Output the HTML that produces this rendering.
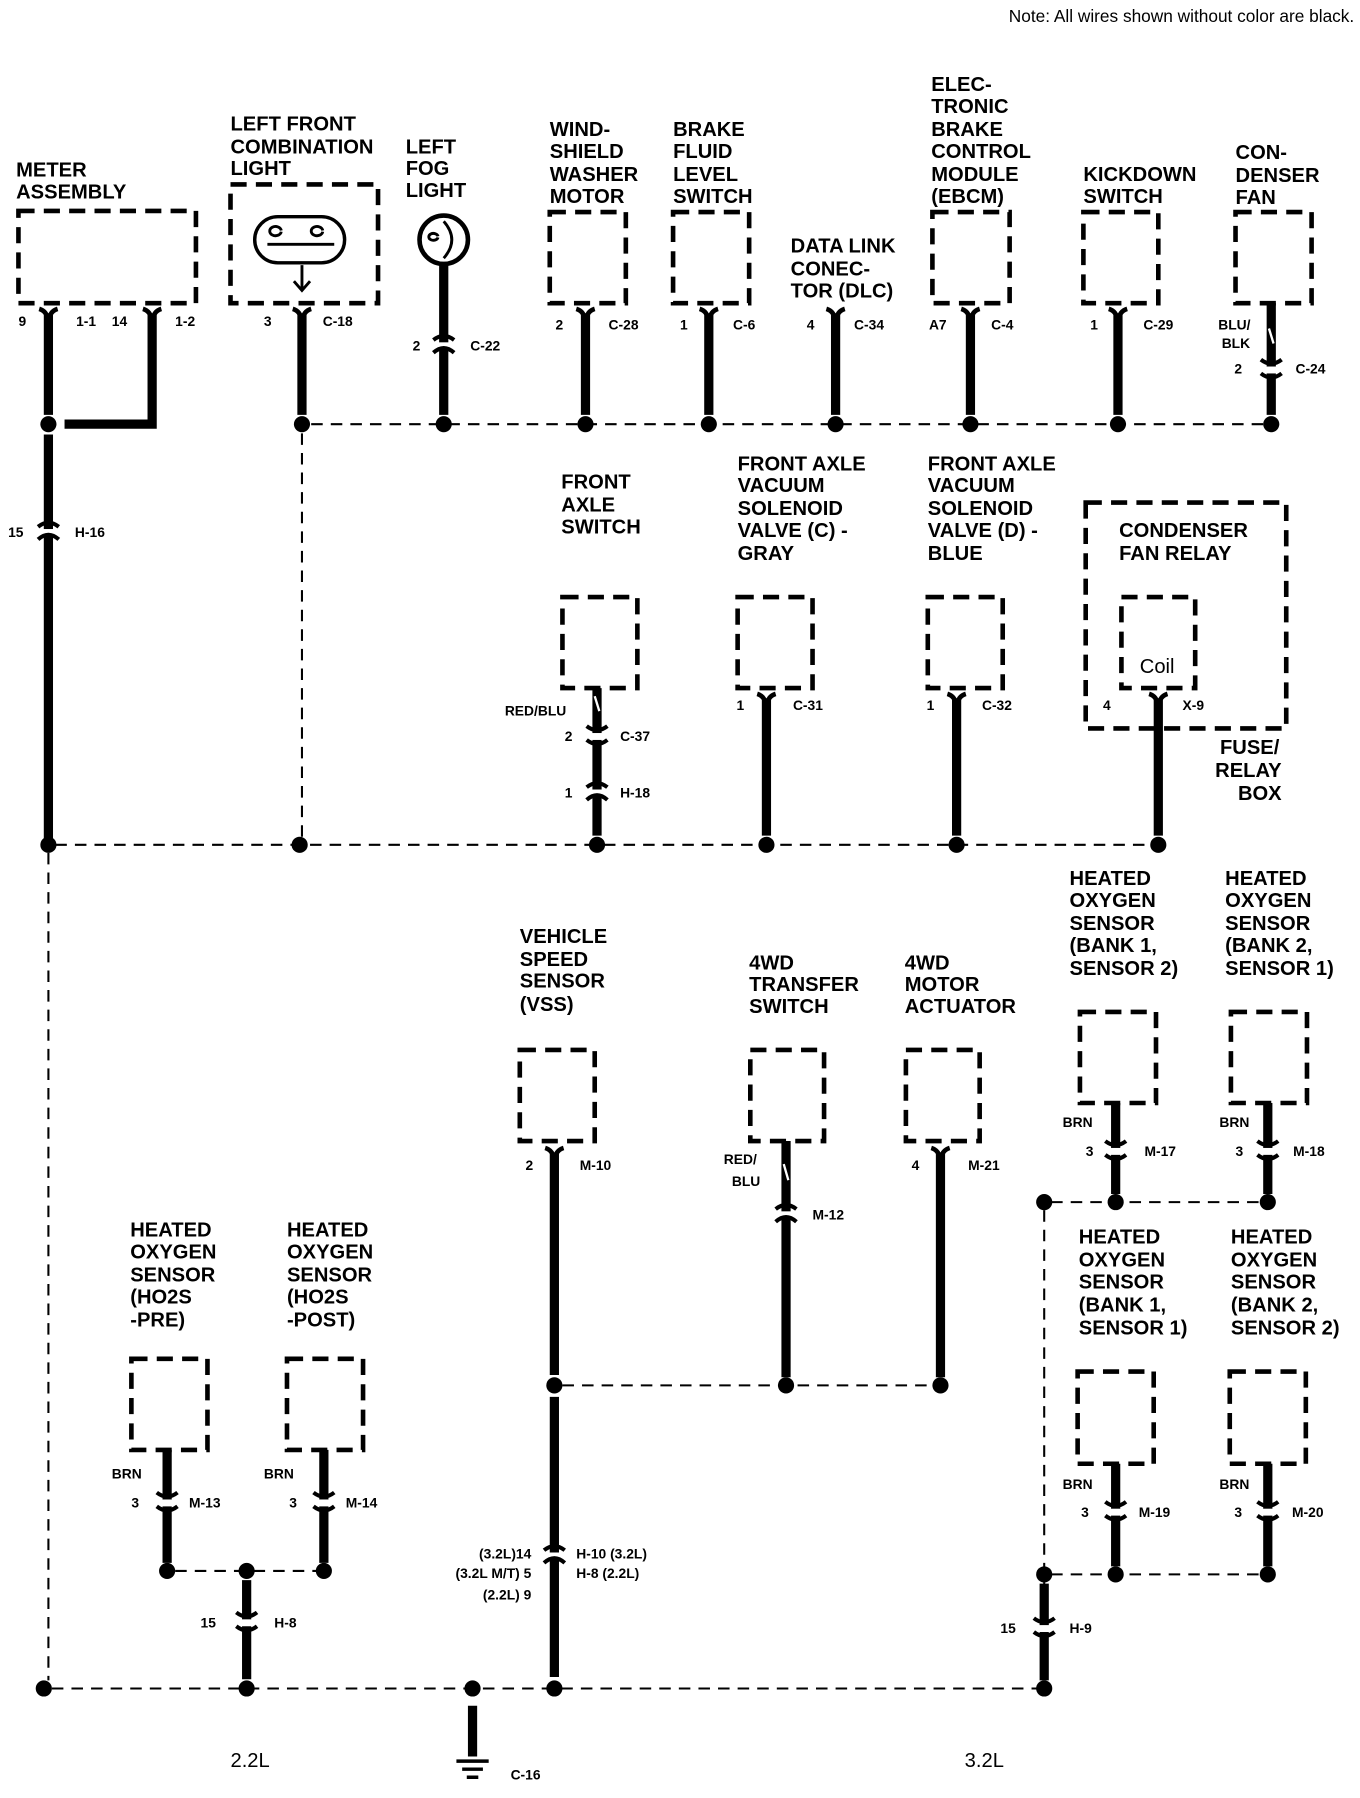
<!DOCTYPE html>
<html><head><meta charset="utf-8"><style>
html,body{margin:0;padding:0;background:#fff}
svg{display:block}
text{font-family:"Liberation Sans",Arial,sans-serif;font-weight:bold;fill:#000}
.l{font-size:17.5px}
.s{font-size:12px}
.n{font-weight:normal}
.bx{fill:none;stroke:#000;stroke-width:4;stroke-dasharray:14 8}
.w{stroke:#000;stroke-width:8;fill:none}
.d{stroke:#000;stroke-width:1.8;stroke-dasharray:10 7;fill:none}
</style></head><body>
<svg width="1360" height="1798" viewBox="0 0 1180 1560" xmlns="http://www.w3.org/2000/svg">
<defs>
<g id="fk"><path d="M-8,-8 Q-1,-6 0,3 Q1,-6 8,-8" stroke="#000" stroke-width="4" fill="none"/></g>
<g id="cn"><rect x="-10" y="-3" width="20" height="5" fill="#fff"/><path d="M-9,-5 Q0,-12 9,-5 M-9,6 Q0,-2 9,6" stroke="#000" stroke-width="3.5" fill="none"/></g>
<g id="cd"><rect x="-10" y="-4" width="20" height="6" fill="#fff"/><path d="M-9,-10 Q0,-3 9,-10 M-9,2 Q0,9 9,2" stroke="#000" stroke-width="3.5" fill="none"/></g>
<circle id="dt" r="7" fill="#000"/>
</defs>

<text x="1175" y="19" class="l n" text-anchor="end" style="font-size:15px">Note: All wires shown without color are black.</text>

<!-- Meter assembly -->
<text class="l" x="14" y="153">METER</text><text class="l" x="14" y="172">ASSEMBLY</text>
<rect class="bx" x="16" y="183" width="154" height="80"/>
<text class="s" x="16" y="283">9</text><text class="s" x="66" y="283">1-1</text><text class="s" x="97" y="283">14</text><text class="s" x="152" y="283">1-2</text>
<path class="w" d="M42,272 V360 M42,377 V735 M132,272 V368 H56"/>
<use href="#fk" x="42" y="276"/><use href="#fk" x="132" y="276"/>
<use href="#dt" x="42" y="368"/>
<use href="#cn" x="42" y="462"/><text class="s" x="7" y="466">15</text><text class="s" x="65" y="466">H-16</text>

<!-- Left front combination light -->
<text class="l" x="200" y="113">LEFT FRONT</text><text class="l" x="200" y="133">COMBINATION</text><text class="l" x="200" y="152">LIGHT</text>
<rect class="bx" x="200" y="160" width="128" height="103"/>
<rect x="221" y="188" width="78" height="40" rx="20" fill="none" stroke="#000" stroke-width="3"/>
<path d="M232,212 Q262,212 290,212 M244,200 A5,4 0 1,0 244,201 M280,200 A5,4 0 1,0 280,201 M262,230 V252 M255,244 L262,252 L269,244" stroke="#000" stroke-width="2.5" fill="none"/>
<text class="s" x="229" y="283">3</text><text class="s" x="280" y="283">C-18</text>
<path class="w" d="M262,272 V360"/><use href="#fk" x="262" y="276"/>
<!-- fog light -->
<text class="l" x="352" y="133">LEFT</text><text class="l" x="352" y="152">FOG</text><text class="l" x="352" y="171">LIGHT</text>
<circle cx="385" cy="208" r="21" fill="none" stroke="#000" stroke-width="4"/>
<path d="M385,192 Q399,208 385,224 M380,205 A4,3 0 1,0 380,206" stroke="#000" stroke-width="2.5" fill="none"/>
<path class="w" d="M385,230 V360"/><use href="#cn" x="385" y="300"/>
<text class="s" x="358" y="304">2</text><text class="s" x="408" y="304">C-22</text>

<!-- top bus -->
<path class="d" d="M270,368 H1100"/>
<path class="d" d="M262,376 V733"/>
<use href="#dt" x="262" y="368"/><use href="#dt" x="385" y="368"/><use href="#dt" x="508" y="368"/><use href="#dt" x="615" y="368"/><use href="#dt" x="725" y="368"/><use href="#dt" x="842" y="368"/><use href="#dt" x="970" y="368"/><use href="#dt" x="1103" y="368"/>

<text class="l" x="477" y="118">WIND-</text><text class="l" x="477" y="137">SHIELD</text><text class="l" x="477" y="157">WASHER</text><text class="l" x="477" y="176">MOTOR</text>
<rect class="bx" x="477" y="184" width="66" height="79"/>
<text class="s" x="482" y="286">2</text><text class="s" x="528" y="286">C-28</text>
<path class="w" d="M508,272 V360"/><use href="#fk" x="508" y="276"/>

<text class="l" x="584" y="118">BRAKE</text><text class="l" x="584" y="137">FLUID</text><text class="l" x="584" y="157">LEVEL</text><text class="l" x="584" y="176">SWITCH</text>
<rect class="bx" x="584" y="184" width="66" height="79"/>
<text class="s" x="590" y="286">1</text><text class="s" x="636" y="286">C-6</text>
<path class="w" d="M615,272 V360"/><use href="#fk" x="615" y="276"/>

<text class="l" x="686" y="219">DATA LINK</text><text class="l" x="686" y="239">CONEC-</text><text class="l" x="686" y="258">TOR (DLC)</text>
<text class="s" x="700" y="286">4</text><text class="s" x="741" y="286">C-34</text>
<path class="w" d="M725,272 V360"/><use href="#fk" x="725" y="276"/>

<text class="l" x="808" y="79">ELEC-</text><text class="l" x="808" y="98">TRONIC</text><text class="l" x="808" y="118">BRAKE</text><text class="l" x="808" y="137">CONTROL</text><text class="l" x="808" y="157">MODULE</text><text class="l" x="808" y="176">(EBCM)</text>
<rect class="bx" x="809" y="184" width="67" height="79"/>
<text class="s" x="806" y="286">A7</text><text class="s" x="860" y="286">C-4</text>
<path class="w" d="M842,272 V360"/><use href="#fk" x="842" y="276"/>

<text class="l" x="940" y="157">KICKDOWN</text><text class="l" x="940" y="176">SWITCH</text>
<rect class="bx" x="940" y="184" width="65" height="79"/>
<text class="s" x="946" y="286">1</text><text class="s" x="992" y="286">C-29</text>
<path class="w" d="M970,272 V360"/><use href="#fk" x="970" y="276"/>

<text class="l" x="1072" y="138">CON-</text><text class="l" x="1072" y="158">DENSER</text><text class="l" x="1072" y="177">FAN</text>
<rect class="bx" x="1072" y="184" width="66" height="79"/>
<path class="w" d="M1103,263 V360"/><path d="M1101,285 L1105,298" stroke="#fff" stroke-width="2"/>
<use href="#cd" x="1103" y="322"/>
<text class="s" x="1057" y="286">BLU/</text><text class="s" x="1060" y="302">BLK</text>
<text class="s" x="1071" y="324">2</text><text class="s" x="1124" y="324">C-24</text>

<!-- middle row -->
<text class="l" x="487" y="424">FRONT</text><text class="l" x="487" y="444">AXLE</text><text class="l" x="487" y="463">SWITCH</text>
<rect class="bx" x="488" y="518" width="65" height="79"/>
<path class="w" d="M518,597 V725"/><path d="M516,604 L520,617" stroke="#fff" stroke-width="2"/>
<text class="s" x="438" y="621">RED/BLU</text>
<use href="#cd" x="518" y="640"/><text class="s" x="490" y="643">2</text><text class="s" x="538" y="643">C-37</text>
<use href="#cn" x="518" y="688"/><text class="s" x="490" y="692">1</text><text class="s" x="538" y="692">H-18</text>

<text class="l" x="640" y="408">FRONT AXLE</text><text class="l" x="640" y="427">VACUUM</text><text class="l" x="640" y="447">SOLENOID</text><text class="l" x="640" y="466">VALVE (C) -</text><text class="l" x="640" y="486">GRAY</text>
<rect class="bx" x="640" y="518" width="65" height="79"/>
<text class="s" x="639" y="616">1</text><text class="s" x="688" y="616">C-31</text>
<path class="w" d="M665,606 V725"/><use href="#fk" x="665" y="610"/>

<text class="l" x="805" y="408">FRONT AXLE</text><text class="l" x="805" y="427">VACUUM</text><text class="l" x="805" y="447">SOLENOID</text><text class="l" x="805" y="466">VALVE (D) -</text><text class="l" x="805" y="486">BLUE</text>
<rect class="bx" x="805" y="518" width="65" height="79"/>
<text class="s" x="804" y="616">1</text><text class="s" x="852" y="616">C-32</text>
<path class="w" d="M830,606 V725"/><use href="#fk" x="830" y="610"/>

<rect class="bx" x="942" y="436" width="174" height="196"/>
<text class="l" x="971" y="466">CONDENSER</text><text class="l" x="971" y="486">FAN RELAY</text>
<rect class="bx" x="973" y="518" width="64" height="79"/>
<text class="l n" x="1004" y="584" text-anchor="middle">Coil</text>
<text class="s" x="957" y="616">4</text><text class="s" x="1026" y="616">X-9</text>
<path class="w" d="M1005,606 V725"/><use href="#fk" x="1005" y="610"/>
<text class="l" x="1110" y="654" text-anchor="end">FUSE/</text><text class="l" x="1112" y="674" text-anchor="end">RELAY</text><text class="l" x="1112" y="694" text-anchor="end">BOX</text>

<path class="d" d="M48,733 H1000"/>
<use href="#dt" x="42" y="733"/><use href="#dt" x="260" y="733"/><use href="#dt" x="518" y="733"/><use href="#dt" x="665" y="733"/><use href="#dt" x="830" y="733"/><use href="#dt" x="1005" y="733"/>
<path class="d" d="M42,740 V1458"/>

<!-- bottom -->
<text class="l" x="451" y="818">VEHICLE</text><text class="l" x="451" y="838">SPEED</text><text class="l" x="451" y="857">SENSOR</text><text class="l" x="451" y="877">(VSS)</text>
<rect class="bx" x="451" y="911" width="65" height="79"/>
<text class="s" x="456" y="1015">2</text><text class="s" x="503" y="1015">M-10</text>
<path class="w" d="M481,1000 V1193 M481,1212 V1455"/><use href="#fk" x="481" y="1004"/>
<use href="#cn" x="481" y="1350"/>
<text class="s" x="461" y="1352" text-anchor="end">(3.2L)14</text><text class="s" x="461" y="1369" text-anchor="end">(3.2L M/T) 5</text><text class="s" x="461" y="1388" text-anchor="end">(2.2L) 9</text>
<text class="s" x="500" y="1352">H-10  (3.2L)</text><text class="s" x="500" y="1369">H-8    (2.2L)</text>

<path class="d" d="M488,1202 H810"/>
<use href="#dt" x="481" y="1202"/><use href="#dt" x="682" y="1202"/><use href="#dt" x="816" y="1202"/>

<text class="l" x="650" y="841">4WD</text><text class="l" x="650" y="860">TRANSFER</text><text class="l" x="650" y="879">SWITCH</text>
<rect class="bx" x="651" y="911" width="64" height="79"/>
<path class="w" d="M682,990 V1195"/><path d="M680,1010 L684,1024" stroke="#fff" stroke-width="2"/>
<text class="s" x="628" y="1010">RED/</text><text class="s" x="635" y="1029">BLU</text>
<use href="#cn" x="682" y="1054"/><text class="s" x="705" y="1058">M-12</text>

<text class="l" x="785" y="841">4WD</text><text class="l" x="785" y="860">MOTOR</text><text class="l" x="785" y="879">ACTUATOR</text>
<rect class="bx" x="786" y="911" width="64" height="79"/>
<text class="s" x="791" y="1015">4</text><text class="s" x="840" y="1015">M-21</text>
<path class="w" d="M816,1000 V1195"/><use href="#fk" x="816" y="1004"/>

<text class="l" x="928" y="768">HEATED</text><text class="l" x="928" y="787">OXYGEN</text><text class="l" x="928" y="807">SENSOR</text><text class="l" x="928" y="826">(BANK 1,</text><text class="l" x="928" y="846">SENSOR 2)</text>
<rect class="bx" x="937" y="878" width="66" height="79"/>
<text class="s" x="922" y="978">BRN</text><text class="s" x="942" y="1003">3</text><text class="s" x="993" y="1003">M-17</text>
<path class="w" d="M968,957 V1036"/><use href="#cd" x="968" y="1000"/>

<text class="l" x="1063" y="768">HEATED</text><text class="l" x="1063" y="787">OXYGEN</text><text class="l" x="1063" y="807">SENSOR</text><text class="l" x="1063" y="826">(BANK 2,</text><text class="l" x="1063" y="846">SENSOR 1)</text>
<rect class="bx" x="1068" y="878" width="66" height="79"/>
<text class="s" x="1058" y="978">BRN</text><text class="s" x="1072" y="1003">3</text><text class="s" x="1122" y="1003">M-18</text>
<path class="w" d="M1100,957 V1036"/><use href="#cd" x="1100" y="1000"/>

<path class="d" d="M912,1043 H1095 M906,1050 V1458"/>
<use href="#dt" x="906" y="1043"/><use href="#dt" x="968" y="1043"/><use href="#dt" x="1100" y="1043"/>

<text class="l" x="936" y="1079">HEATED</text><text class="l" x="936" y="1099">OXYGEN</text><text class="l" x="936" y="1118">SENSOR</text><text class="l" x="936" y="1138">(BANK 1,</text><text class="l" x="936" y="1158">SENSOR 1)</text>
<rect class="bx" x="935" y="1190" width="66" height="80"/>
<text class="s" x="922" y="1292">BRN</text><text class="s" x="938" y="1316">3</text><text class="s" x="988" y="1316">M-19</text>
<path class="w" d="M968,1270 V1359"/><use href="#cd" x="968" y="1313"/>

<text class="l" x="1068" y="1079">HEATED</text><text class="l" x="1068" y="1099">OXYGEN</text><text class="l" x="1068" y="1118">SENSOR</text><text class="l" x="1068" y="1138">(BANK 2,</text><text class="l" x="1068" y="1158">SENSOR 2)</text>
<rect class="bx" x="1067" y="1190" width="66" height="80"/>
<text class="s" x="1058" y="1292">BRN</text><text class="s" x="1071" y="1316">3</text><text class="s" x="1121" y="1316">M-20</text>
<path class="w" d="M1100,1270 V1359"/><use href="#cd" x="1100" y="1313"/>

<path class="d" d="M912,1366 H1095"/>
<use href="#dt" x="906" y="1366"/><use href="#dt" x="968" y="1366"/><use href="#dt" x="1100" y="1366"/>
<path class="w" d="M906,1374 V1458"/><use href="#cd" x="906" y="1414"/>
<text class="s" x="868" y="1417">15</text><text class="s" x="928" y="1417">H-9</text>

<!-- 2.2L sensors -->
<text class="l" x="113" y="1073">HEATED</text><text class="l" x="113" y="1092">OXYGEN</text><text class="l" x="113" y="1112">SENSOR</text><text class="l" x="113" y="1131">(HO2S</text><text class="l" x="113" y="1151">-PRE)</text>
<rect class="bx" x="114" y="1179" width="66" height="79"/>
<text class="s" x="97" y="1283">BRN</text><text class="s" x="114" y="1308">3</text><text class="s" x="164" y="1308">M-13</text>
<path class="w" d="M145,1258 V1356"/><use href="#cd" x="145" y="1305"/>

<text class="l" x="249" y="1073">HEATED</text><text class="l" x="249" y="1092">OXYGEN</text><text class="l" x="249" y="1112">SENSOR</text><text class="l" x="249" y="1131">(HO2S</text><text class="l" x="249" y="1151">-POST)</text>
<rect class="bx" x="249" y="1179" width="66" height="79"/>
<text class="s" x="229" y="1283">BRN</text><text class="s" x="251" y="1308">3</text><text class="s" x="300" y="1308">M-14</text>
<path class="w" d="M281,1258 V1356"/><use href="#cd" x="281" y="1305"/>

<path class="d" d="M152,1363 H275"/>
<use href="#dt" x="145" y="1363"/><use href="#dt" x="214" y="1363"/><use href="#dt" x="281" y="1363"/>
<path class="w" d="M214,1371 V1457"/><use href="#cd" x="214" y="1409"/>
<text class="s" x="174" y="1412">15</text><text class="s" x="238" y="1412">H-8</text>

<!-- bottom bus -->
<path class="d" d="M45,1465 H900"/>
<use href="#dt" x="38" y="1465"/><use href="#dt" x="214" y="1465"/><use href="#dt" x="410" y="1465"/><use href="#dt" x="481" y="1465"/><use href="#dt" x="906" y="1465"/>
<path class="w" d="M410,1480 V1524"/>
<path d="M396,1528 H424 M401,1535 H419 M405,1542 H415" stroke="#000" stroke-width="3"/>
<text class="s" x="443" y="1544">C-16</text>
<text class="l n" x="200" y="1533">2.2L</text><text class="l n" x="837" y="1533">3.2L</text>
</svg>
</body></html>
